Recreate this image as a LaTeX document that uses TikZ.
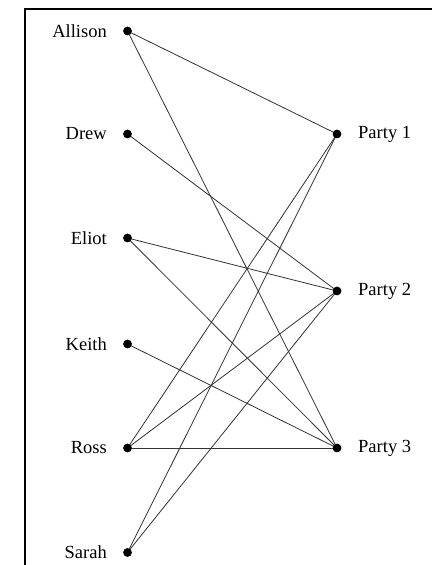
\documentclass[tikz,border=0pt]{standalone}
\usepackage{fontspec}
\setmainfont{Liberation Serif}
\begin{document}
\begin{tikzpicture}[x=1pt,y=1pt,
  vtx/.style={circle,fill=black,inner sep=0pt,minimum size=8.5pt},
  lbl/.style={font=\fontsize{18.5}{20}\selectfont,inner sep=0pt},
  edge/.style={draw=black!80,line width=0.8pt}]
\useasboundingbox (0,0) rectangle (432,565);
\draw[line width=2pt] (25,0) -- (25,556) -- (432,556);
% left vertices
\node[vtx] (allison) at (127.5,534) {};
\node[vtx] (drew)    at (127.5,431) {};
\node[vtx] (eliot)   at (127.5,327) {};
\node[vtx] (keith)   at (127.5,221) {};
\node[vtx] (ross)    at (127.5,117) {};
\node[vtx] (sarah)   at (127.5,12.5) {};
% right vertices
\node[vtx] (p1) at (337,431) {};
\node[vtx] (p2) at (337,274) {};
\node[vtx] (p3) at (337,117) {};
% labels
\node[lbl,anchor=east] (lallison) at (107,534) {Allison};
\node[lbl,anchor=east] (ldrew)    at (107,431) {Drew};
\node[lbl,anchor=east] (leliot)   at (107,327) {Eliot};
\node[lbl,anchor=east] (lkeith)   at (107,221) {Keith};
\node[lbl,anchor=east] (lross)    at (107,117) {Ross};
\node[lbl,anchor=east] (lsarah)   at (107,12.5) {Sarah};
\node[lbl,anchor=west] (lp1) at (358,431) {Party 1};
\node[lbl,anchor=west] (lp2) at (358,274) {Party 2};
\node[lbl,anchor=west] (lp3) at (358,117) {Party 3};
% edges
\draw[edge] (allison.center) -- (p1.center);
\draw[edge] (allison.center) -- (p3.center);
\draw[edge] (drew.center) -- (p2.center);
\draw[edge] (eliot.center) -- (p2.center);
\draw[edge] (eliot.center) -- (p3.center);
\draw[edge] (keith.center) -- (p3.center);
\draw[edge] (ross.center) -- (p1.center);
\draw[edge] (ross.center) -- (p2.center);
\draw[edge] (ross.center) -- (p3.center);
\draw[edge] (sarah.center) -- (p1.center);
\draw[edge] (sarah.center) -- (p2.center);
% redraw dots on top
\foreach \n in {allison,drew,eliot,keith,ross,sarah,p1,p2,p3}
  \fill (\n) circle (4.25pt);
\end{tikzpicture}
\end{document}
